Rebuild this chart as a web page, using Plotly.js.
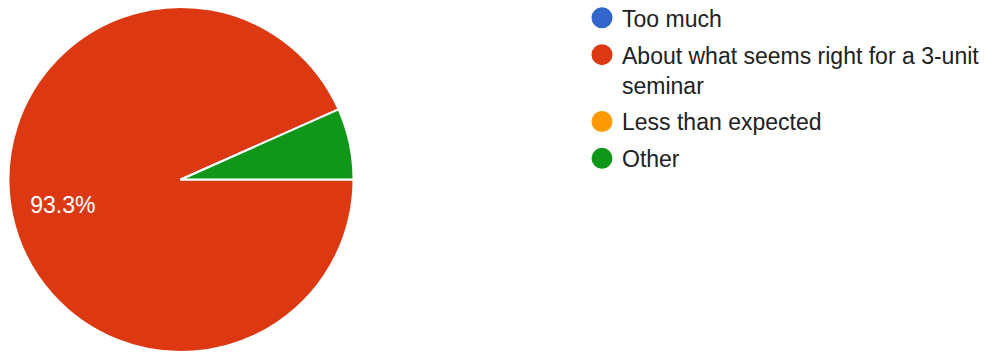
<!DOCTYPE html>
<html>
<head>
<meta charset="utf-8">
<script src="https://cdn.plot.ly/plotly-3.0.1.min.js"></script>
<style>html,body{margin:0;padding:0;background:#fff;}#chart{width:992px;height:352px;}</style>
</head>
<body>
<div id="chart"></div>
<script>
// Data
var categories = ["Too much", "About what seems right for a 3-unit seminar", "Less than expected", "Other"];
var legendLabels = ["Too much", "About what seems right for a 3-unit<br>seminar", "Less than expected", "Other"];
var counts = [0, 14, 0, 1];
var colors = ["#3366cc", "#dc3912", "#ff9900", "#109618"];

var total = counts.reduce(function (a, b) { return a + b; }, 0);
var pieDomain = {x: [8 / 992, 354 / 992], y: [0, 1]};

var pie = {
  type: "pie",
  labels: categories,
  values: counts,
  sort: false,
  direction: "clockwise",
  rotation: 90,
  marker: {colors: colors, line: {color: "#ffffff", width: 2}},
  textinfo: "none",
  hoverinfo: "label+percent",
  showlegend: false,
  domain: pieDomain
};

// label layer: same data, transparent ring so the percent sits further out
var pieLabels = {
  type: "pie",
  labels: categories,
  values: counts,
  sort: false,
  direction: "clockwise",
  rotation: 90,
  hole: 0.4,
  marker: {colors: counts.map(function () { return "rgba(0,0,0,0)"; }), line: {width: 0}},
  texttemplate: "%{percent:.1%}",
  textposition: counts.map(function (v) { return v / total > 0.1 ? "inside" : "none"; }),
  insidetextorientation: "horizontal",
  textfont: {family: "Arial, 'Liberation Sans', sans-serif", size: 23, color: "#ffffff"},
  hoverinfo: "skip",
  showlegend: false,
  domain: pieDomain
};

var traces = [pie, pieLabels];
categories.forEach(function (c, i) {
  traces.push({
    type: "scatter",
    x: [null], y: [null],
    mode: "markers",
    name: legendLabels[i],
    legendgroup: "g" + i,
    marker: {symbol: "circle", size: 16, color: colors[i], line: {color: colors[i], width: 5}},
    showlegend: true,
    hoverinfo: "skip"
  });
});

var layout = {
  width: 992, height: 352,
  margin: {l: 0, r: 0, t: 7, b: 0, autoexpand: false},
  paper_bgcolor: "#ffffff",
  plot_bgcolor: "#ffffff",
  xaxis: {visible: false, domain: [0.99, 1]},
  yaxis: {visible: false},
  font: {family: "Arial, 'Liberation Sans', sans-serif", color: "#212121"},
  showlegend: true,
  legend: {
    x: 582 / 992, xanchor: "left",
    y: 1.031, yanchor: "top",
    valign: "top",
    tracegroupgap: 4,
    font: {family: "Arial, 'Liberation Sans', sans-serif", size: 23, color: "#212121"},
    bgcolor: "rgba(0,0,0,0)",
    borderwidth: 0,
    itemclick: false
  }
};

Plotly.newPlot("chart", traces, layout, {displayModeBar: false, staticPlot: true});
</script>
</body>
</html>
